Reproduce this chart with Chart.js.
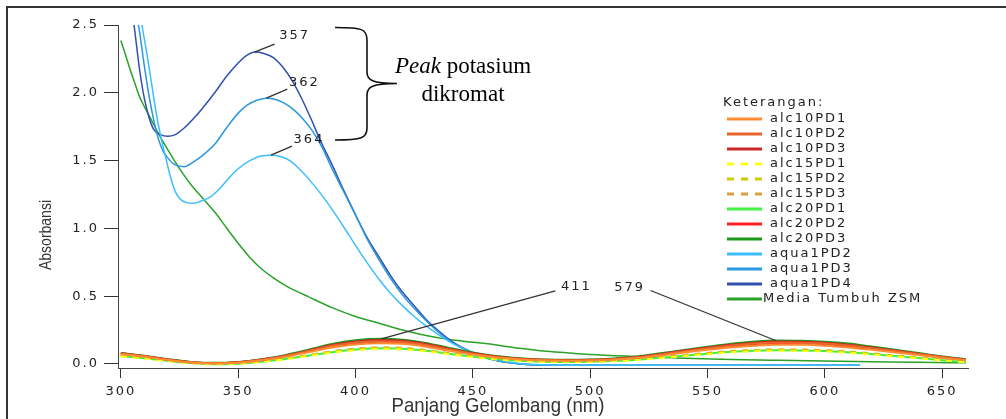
<!DOCTYPE html>
<html>
<head>
<meta charset="utf-8">
<script src="https://cdn.jsdelivr.net/npm/chart.js@4.4.1/dist/chart.umd.min.js"></script>
<style>
  html, body { margin: 0; padding: 0; background: #fff; }
  canvas { display: block; }
</style>
</head>
<body>
<canvas id="c" width="1006" height="419"></canvas>
<script>
// Wavelength grid (nm) shared by the alc sample spectra
const wlAlc = [300,310,320,330,340,350,360,370,380,390,400,411,420,430,440,450,460,470,480,490,500,510,520,530,540,550,560,570,579,590,600,610,620,630,640,650,660];

const alc10PD1 = [0.072,0.053,0.029,0.010,0.003,0.009,0.026,0.052,0.086,0.121,0.144,0.152,0.148,0.127,0.097,0.069,0.047,0.033,0.026,0.023,0.025,0.031,0.043,0.062,0.084,0.104,0.122,0.135,0.142,0.141,0.135,0.122,0.104,0.085,0.065,0.044,0.027];
const alc10PD2 = [0.076,0.056,0.031,0.012,0.005,0.011,0.030,0.058,0.095,0.134,0.158,0.168,0.163,0.140,0.107,0.076,0.052,0.037,0.029,0.026,0.028,0.035,0.049,0.070,0.094,0.116,0.136,0.150,0.158,0.157,0.150,0.136,0.116,0.095,0.073,0.050,0.031];
const alc10PD3 = [0.078,0.058,0.033,0.013,0.006,0.013,0.032,0.061,0.099,0.140,0.166,0.176,0.171,0.147,0.112,0.080,0.055,0.039,0.031,0.028,0.030,0.037,0.051,0.073,0.099,0.121,0.142,0.157,0.165,0.164,0.157,0.142,0.121,0.099,0.076,0.052,0.033];
const alc15PD1 = [0.055,0.040,0.020,0.004,-0.004,0.000,0.014,0.034,0.058,0.083,0.101,0.110,0.107,0.093,0.071,0.050,0.033,0.022,0.015,0.013,0.015,0.020,0.029,0.042,0.058,0.072,0.085,0.093,0.097,0.096,0.092,0.082,0.070,0.055,0.041,0.026,0.012];
const alc15PD2 = [0.060,0.044,0.024,0.007,-0.001,0.003,0.018,0.038,0.064,0.090,0.110,0.119,0.116,0.100,0.077,0.055,0.037,0.025,0.018,0.016,0.018,0.023,0.033,0.047,0.064,0.079,0.092,0.100,0.104,0.103,0.099,0.089,0.075,0.060,0.045,0.030,0.016];
const alc15PD3 = [0.062,0.046,0.025,0.008,0.000,0.004,0.019,0.040,0.066,0.093,0.113,0.122,0.119,0.103,0.079,0.057,0.039,0.026,0.019,0.017,0.019,0.024,0.034,0.049,0.066,0.081,0.095,0.103,0.107,0.106,0.102,0.092,0.078,0.062,0.047,0.031,0.017];
const alc20PD1 = [0.058,0.042,0.022,0.006,-0.002,0.002,0.016,0.036,0.061,0.087,0.106,0.115,0.112,0.097,0.075,0.053,0.036,0.024,0.017,0.015,0.017,0.022,0.031,0.045,0.061,0.076,0.089,0.097,0.101,0.100,0.096,0.086,0.073,0.058,0.043,0.028,0.014];
const alc20PD2 = [0.074,0.055,0.030,0.011,0.004,0.010,0.028,0.056,0.092,0.130,0.154,0.163,0.158,0.136,0.104,0.074,0.050,0.036,0.028,0.025,0.027,0.034,0.047,0.067,0.091,0.112,0.132,0.146,0.153,0.152,0.146,0.132,0.113,0.092,0.071,0.048,0.030];
const alc20PD3 = [0.080,0.060,0.035,0.015,0.008,0.015,0.035,0.065,0.105,0.148,0.175,0.185,0.179,0.155,0.118,0.085,0.058,0.042,0.033,0.030,0.032,0.040,0.055,0.078,0.103,0.126,0.148,0.165,0.173,0.171,0.164,0.150,0.128,0.105,0.080,0.055,0.035];

// Potassium dichromate (aqua) spectra
const wlAqua2 = [307,309,311,313,315,317,319,321,323,325,328,331,334,338,342,346,350,355,360,364,368,372,376,380,385,390,395,400,405,410,415,420,425,430,435,440,445,450,455,460,465,470,480,500,540,580,615];
const aqua1PD2 = [2.75,2.50,2.30,2.08,1.86,1.68,1.53,1.39,1.28,1.22,1.19,1.185,1.20,1.23,1.29,1.37,1.44,1.50,1.535,1.54,1.53,1.50,1.44,1.365,1.26,1.14,1.01,0.875,0.745,0.625,0.52,0.43,0.35,0.28,0.22,0.165,0.12,0.085,0.055,0.032,0.015,0.004,-0.006,-0.010,-0.010,-0.010,-0.010];

const wlAqua3 = [305,308,310,312,314,316,318,320,323,327,331,335,340,345,350,354,358,362,366,370,374,378,382,386,390,395,400,405,410,415,420,425,430,435,440,445,450,455,460,465,470,480,500,540,580,615];
const aqua1PD3 = [2.75,2.45,2.20,1.98,1.80,1.66,1.57,1.52,1.47,1.455,1.49,1.54,1.62,1.74,1.85,1.91,1.945,1.96,1.95,1.92,1.87,1.80,1.71,1.59,1.44,1.27,1.10,0.92,0.77,0.63,0.51,0.41,0.32,0.24,0.17,0.12,0.08,0.048,0.025,0.010,0.000,-0.008,-0.010,-0.010,-0.010,-0.010];

const wlAqua4 = [304,306,308,310,312,314,317,320,323,327,331,335,340,345,350,354,357,361,365,369,373,377,381,385,390,395,400,405,410,415,420,425,430,435,440,445,450,455,460,465,470,480,500,540,580,615];
const aqua1PD4 = [2.72,2.45,2.17,1.96,1.82,1.73,1.69,1.68,1.69,1.74,1.81,1.89,2.00,2.12,2.22,2.28,2.30,2.29,2.26,2.19,2.09,1.96,1.81,1.65,1.47,1.28,1.10,0.93,0.79,0.65,0.53,0.43,0.33,0.25,0.18,0.125,0.085,0.050,0.025,0.010,0.000,-0.008,-0.010,-0.010,-0.010,-0.010];

// Growth medium blank
const wlMedia = [300,302,304,306,308,310,313,316,320,325,330,335,340,345,350,355,360,365,370,375,380,390,400,410,420,430,440,450,460,470,480,490,500,520,540,560,580,600,620,640,660];
const mediaZSM = [2.385,2.28,2.17,2.07,1.97,1.90,1.80,1.70,1.58,1.44,1.32,1.22,1.12,1.005,0.89,0.785,0.70,0.635,0.58,0.535,0.495,0.415,0.35,0.30,0.25,0.21,0.18,0.16,0.14,0.115,0.095,0.082,0.070,0.055,0.042,0.033,0.027,0.022,0.017,0.012,0.008];

// Axis ticks
const xTicks = [300,350,400,450,500,550,600,650];
const yTicks = [0.0,0.5,1.0,1.5,2.0,2.5];

// Peak labels (wavelength in nm) and the absorbance where each leader touches its curve
const peakNm  = [357, 362, 364, 411, 579];
const peakAbs = [2.30, 1.96, 1.54, 0.185, 0.173];

const pts = (wl, v) => wl.map((x, i) => ({ x, y: v[i] }));

const series = [
  { label: 'alc10PD1', wl: wlAlc, v: alc10PD1, color: '#FF8C33', width: 2 },
  { label: 'alc10PD2', wl: wlAlc, v: alc10PD2, color: '#E8642A', width: 2 },
  { label: 'alc10PD3', wl: wlAlc, v: alc10PD3, color: '#CC2626', width: 2 },
  { label: 'alc15PD1', wl: wlAlc, v: alc15PD1, color: '#FFFF1A', width: 2, dash: [6, 6] },
  { label: 'alc15PD2', wl: wlAlc, v: alc15PD2, color: '#CCCC00', width: 2, dash: [6, 6] },
  { label: 'alc15PD3', wl: wlAlc, v: alc15PD3, color: '#D9A040', width: 2, dash: [6, 6] },
  { label: 'alc20PD1', wl: wlAlc, v: alc20PD1, color: '#44F044', width: 2 },
  { label: 'alc20PD2', wl: wlAlc, v: alc20PD2, color: '#FF2222', width: 2 },
  { label: 'alc20PD3', wl: wlAlc, v: alc20PD3, color: '#1A9A1A', width: 2 },
  { label: 'aqua1PD2', wl: wlAqua2, v: aqua1PD2, color: '#3DBEFF', width: 1.5 },
  { label: 'aqua1PD3', wl: wlAqua3, v: aqua1PD3, color: '#2A98DE', width: 1.5 },
  { label: 'aqua1PD4', wl: wlAqua4, v: aqua1PD4, color: '#3050B0', width: 1.5 },
  { label: 'Media Tumbuh ZSM', wl: wlMedia, v: mediaZSM, color: '#2AA22A', width: 1.5 }
];

const datasets = series.map(s => ({
  label: s.label,
  data: pts(s.wl, s.v),
  borderColor: s.color,
  borderWidth: s.width,
  borderDash: s.dash || [],
  pointRadius: 0,
  fill: false,
  cubicInterpolationMode: 'monotone'
}));

const TXT = '#222';
const SANS = '"DejaVu Sans", "Liberation Sans", sans-serif';
const TITLE = '"Liberation Sans", Arial, sans-serif';
const SERIF = '"Liberation Serif", "Times New Roman", serif';

const decor = {
  id: 'decor',
  beforeDraw(chart) {
    const c = chart.ctx;
    c.save();
    c.fillStyle = '#fff';
    c.fillRect(0, 0, chart.width, chart.height);
    c.restore();
    c.letterSpacing = '2px';
  },
  afterDraw(chart) {
    const c = chart.ctx;
    const xs = chart.scales.x, ys = chart.scales.y;
    c.save();

    // outer frame
    c.strokeStyle = '#333';
    c.lineWidth = 2;
    c.beginPath();
    c.moveTo(7, 420); c.lineTo(7, 7); c.lineTo(1006, 7);
    c.stroke();

    // axis titles (condensed)
    c.letterSpacing = '0px';
    c.fillStyle = '#333';
    c.textAlign = 'center';
    c.textBaseline = 'middle';
    c.save();
    c.translate(498, 406);
    c.scale(0.885, 1);
    c.font = '21px ' + TITLE;
    c.fillText('Panjang Gelombang (nm)', 0, 0);
    c.restore();
    c.save();
    c.translate(47, 235);
    c.rotate(-Math.PI / 2);
    c.scale(0.875, 1);
    c.font = '16px ' + TITLE;
    c.fillText('Absorbansi', 0, 0);
    c.restore();

    // legend
    c.font = '13px ' + SANS;
    c.letterSpacing = '2px';
    c.fillStyle = TXT;
    c.textAlign = 'left';
    c.fillText('Keterangan:', 723, 103);
    chart.data.datasets.forEach((ds, i) => {
      const y = 119 + i * 15;
      c.strokeStyle = ds.borderColor;
      c.lineWidth = 3;
      c.setLineDash(ds.borderDash.length ? [7, 7] : []);
      c.beginPath();
      c.moveTo(727, y); c.lineTo(762, y);
      c.stroke();
      c.setLineDash([]);
      c.fillText(ds.label, ds.label.length > 10 ? 763 : 770, y);
    });

    // peak leaders and wavelength labels
    const offs = [
      { tx: 39, ty: -16, lx: 20, ly: -8 },
      { tx: 37, ty: -16, lx: 21, ly: -9 },
      { tx: 37, ty: -16, lx: 21, ly: -9 },
      { tx: 194, ty: -52, lx: 174, ly: -48 },
      { tx: -147, ty: -53, lx: -125, ly: -50 }
    ];
    c.strokeStyle = '#333';
    c.lineWidth = 1.3;
    c.fillStyle = TXT;
    c.textAlign = 'center';
    c.font = '13px ' + SANS;
    c.letterSpacing = '2px';
    peakNm.forEach((nm, i) => {
      const px = xs.getPixelForValue(nm), py = ys.getPixelForValue(peakAbs[i]);
      const o = offs[i];
      c.beginPath();
      c.moveTo(px, py); c.lineTo(px + o.lx, py + o.ly);
      c.stroke();
      c.fillText(String(nm), px + o.tx + 1, py + o.ty);
    });

    // brace grouping the dichromate peaks
    c.strokeStyle = '#111';
    c.lineWidth = 1.6;
    c.beginPath();
    c.moveTo(335, 27.5);
    c.bezierCurveTo(362, 27.5, 367, 29, 367, 40);
    c.lineTo(367, 72);
    c.bezierCurveTo(367, 80, 372, 83.5, 397, 83.5);
    c.bezierCurveTo(372, 83.5, 367, 87, 367, 95);
    c.lineTo(367, 128);
    c.bezierCurveTo(367, 138, 362, 140, 335, 140);
    c.stroke();

    // group caption
    c.letterSpacing = '0px';
    c.fillStyle = '#000';
    c.textBaseline = 'alphabetic';
    c.textAlign = 'left';
    const f1 = 'italic 23px ' + SERIF, f2 = '23px ' + SERIF;
    c.font = f1; const w1 = c.measureText('Peak').width;
    c.font = f2; const w2 = c.measureText(' potasium').width;
    const sx = 463 - (w1 + w2) / 2;
    c.font = f1; c.fillText('Peak', sx, 73);
    c.font = f2; c.fillText(' potasium', sx + w1, 73);
    c.textAlign = 'center';
    c.fillText('dikromat', 463, 101);

    c.restore();
  }
};

new Chart(document.getElementById('c').getContext('2d'), {
  type: 'line',
  data: { datasets },
  options: {
    responsive: false,
    animation: false,
    devicePixelRatio: 1,
    layout: { padding: { top: 25, right: 38, bottom: 0, left: 0 } },
    plugins: { legend: { display: false }, tooltip: { enabled: false } },
    scales: {
      x: {
        type: 'linear',
        min: 298.8,
        max: 661,
        afterFit: s => { s.height = 51; },
        afterBuildTicks: s => { s.ticks = xTicks.map(v => ({ value: v })); },
        border: { display: true, color: '#444', width: 1 },
        grid: { drawOnChartArea: false, drawTicks: true, tickLength: 10, color: '#333' },
        ticks: { color: TXT, font: { family: SANS, size: 13 }, padding: 6, maxRotation: 0, autoSkip: false,
                 callback: v => String(v) }
      },
      y: {
        min: -0.03,
        max: 2.5,
        afterFit: s => { s.width = 118; },
        afterBuildTicks: s => { s.ticks = yTicks.map(v => ({ value: v })); },
        border: { display: true, color: '#444', width: 1 },
        grid: { drawOnChartArea: false, drawTicks: true, tickLength: 14, color: '#333' },
        ticks: { color: TXT, font: { family: SANS, size: 13 }, padding: 5,
                 callback: v => v.toFixed(1) }
      }
    }
  },
  plugins: [decor]
});
</script>
</body>
</html>
